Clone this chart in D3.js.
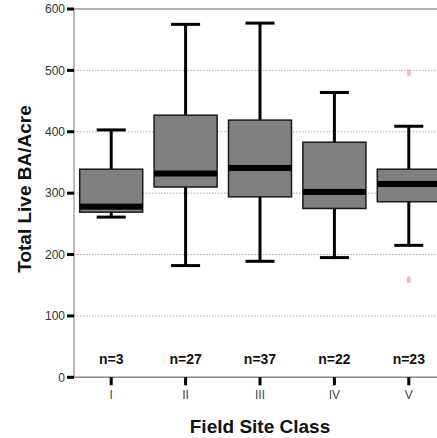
<!DOCTYPE html>
<html>
<head>
<meta charset="utf-8">
<script src="https://cdn.jsdelivr.net/npm/d3@7"></script>
<style>
  body { margin: 0; background: #fff; }
  svg { display: block; font-family: "Liberation Sans", Arial, sans-serif; }
</style>
</head>
<body>
<div id="chart"></div>
<script>
const width = 437;
const height = 438;

// data
const classes = ["I", "II", "III", "IV", "V"];
const counts = [3, 27, 37, 22, 23];
const whiskerLow = [261, 182, 189, 195, 215];
const q1 = [269, 310, 294, 275, 286];
const medians = [278, 332, 341, 302, 315];
const q3 = [339, 427, 419, 383, 339];
const whiskerHigh = [403, 575, 577, 464, 409];
const outliers = [{ cls: "V", value: 496 }, { cls: "V", value: 159 }];
const yTicks = [0, 100, 200, 300, 400, 500, 600];

const boxes = classes.map((c, i) => ({
	cls: c,
	n: counts[i],
	lo: whiskerLow[i],
	q1: q1[i],
	med: medians[i],
	q3: q3[i],
	hi: whiskerHigh[i],
}));

const margin = { left: 74, top: 9, bottom: 377.3 };

const svg = d3
	.select("#chart")
	.append("svg")
	.attr("width", width)
	.attr("height", height);

const x = d3.scaleBand().domain(classes).range([margin.left, 446]).padding(0);
const y = d3.scaleLinear().domain([0, 600]).range([margin.bottom, margin.top]);
const cx = (c) => x(c) + x.bandwidth() / 2;
const boxW = 63;
const capW = 29;

// grid lines
svg.append("g")
	.selectAll("line")
	.data(yTicks.filter((t) => t > 0))
	.join("line")
	.attr("x1", margin.left)
	.attr("x2", width)
	.attr("y1", (d) => y(d))
	.attr("y2", (d) => y(d))
	.attr("stroke", (d) => (d === 600 ? "#999" : "#aaa"))
	.attr("stroke-width", (d) => (d === 600 ? 1.5 : 1))
	.attr("stroke-dasharray", (d) => (d === 600 ? null : "1.5,1.5"));

// axis lines
svg.append("line")
	.attr("x1", margin.left).attr("x2", margin.left)
	.attr("y1", y(600)).attr("y2", y(0))
	.attr("stroke", "#777").attr("stroke-width", 1);
svg.append("line")
	.attr("x1", margin.left).attr("x2", width)
	.attr("y1", y(0)).attr("y2", y(0))
	.attr("stroke", "#888").attr("stroke-width", 1.5);

// y axis ticks and labels
const yAxis = svg.append("g");
yAxis.selectAll("line")
	.data(yTicks)
	.join("line")
	.attr("x1", 67).attr("x2", margin.left)
	.attr("y1", (d) => y(d)).attr("y2", (d) => y(d))
	.attr("stroke", "#000").attr("stroke-width", 3);
yAxis.selectAll("text")
	.data(yTicks)
	.join("text")
	.attr("x", 65)
	.attr("y", (d) => y(d))
	.attr("dy", "0.35em")
	.attr("text-anchor", "end")
	.attr("font-size", 12)
	.attr("fill", "#333")
	.text((d) => d);

// x axis ticks and labels
const xAxis = svg.append("g");
xAxis.selectAll("line")
	.data(classes)
	.join("line")
	.attr("x1", (d) => cx(d)).attr("x2", (d) => cx(d))
	.attr("y1", y(0)).attr("y2", y(0) + 8)
	.attr("stroke", "#000").attr("stroke-width", 3);
xAxis.selectAll("text")
	.data(classes)
	.join("text")
	.attr("x", (d) => cx(d))
	.attr("y", 399)
	.attr("text-anchor", "middle")
	.attr("font-size", 12)
	.attr("fill", "#444")
	.text((d) => d);

// whiskers
const wk = svg.append("g").attr("stroke", "#000").attr("stroke-width", 3);
wk.selectAll(".stem")
	.data(boxes)
	.join("line")
	.attr("class", "stem")
	.attr("x1", (d) => cx(d.cls)).attr("x2", (d) => cx(d.cls))
	.attr("y1", (d) => y(d.lo)).attr("y2", (d) => y(d.hi));
wk.selectAll(".cap")
	.data(boxes.flatMap((d) => [{ cls: d.cls, v: d.lo }, { cls: d.cls, v: d.hi }]))
	.join("line")
	.attr("class", "cap")
	.attr("x1", (d) => cx(d.cls) - capW / 2).attr("x2", (d) => cx(d.cls) + capW / 2)
	.attr("y1", (d) => y(d.v)).attr("y2", (d) => y(d.v));

// boxes
svg.append("g")
	.selectAll("rect")
	.data(boxes)
	.join("rect")
	.attr("x", (d) => cx(d.cls) - boxW / 2)
	.attr("y", (d) => y(d.q3))
	.attr("width", boxW)
	.attr("height", (d) => y(d.q1) - y(d.q3))
	.attr("fill", "#808080")
	.attr("stroke", "#1a1a1a")
	.attr("stroke-width", 1.5);

// medians
svg.append("g")
	.selectAll("rect")
	.data(boxes)
	.join("rect")
	.attr("x", (d) => cx(d.cls) - boxW / 2)
	.attr("y", (d) => y(d.med) - 3)
	.attr("width", boxW)
	.attr("height", 6)
	.attr("fill", "#000");

// outliers (faint pink marks)
svg.append("g")
	.selectAll("ellipse")
	.data(outliers)
	.join("ellipse")
	.attr("cx", (d) => cx(d.cls))
	.attr("cy", (d) => y(d.value))
	.attr("rx", 2)
	.attr("ry", 3.5)
	.attr("fill", "#f7a8b0")
	.attr("opacity", 0.8);

// n labels
svg.append("g")
	.selectAll("text")
	.data(boxes)
	.join("text")
	.attr("x", (d) => cx(d.cls))
	.attr("y", 364)
	.attr("text-anchor", "middle")
	.attr("font-size", 14)
	.attr("font-weight", "bold")
	.attr("fill", "#111")
	.text((d) => "n=" + d.n);

// axis titles
svg.append("text")
	.attr("x", 260)
	.attr("y", 433)
	.attr("text-anchor", "middle")
	.attr("font-size", 19)
	.attr("font-weight", "bold")
	.attr("fill", "#111")
	.text("Field Site Class");

svg.append("text")
	.attr("transform", "translate(31,189) rotate(-90)")
	.attr("text-anchor", "middle")
	.attr("font-size", 19)
	.attr("font-weight", "bold")
	.attr("fill", "#111")
	.text("Total Live BA/Acre");
</script>
</body>
</html>
